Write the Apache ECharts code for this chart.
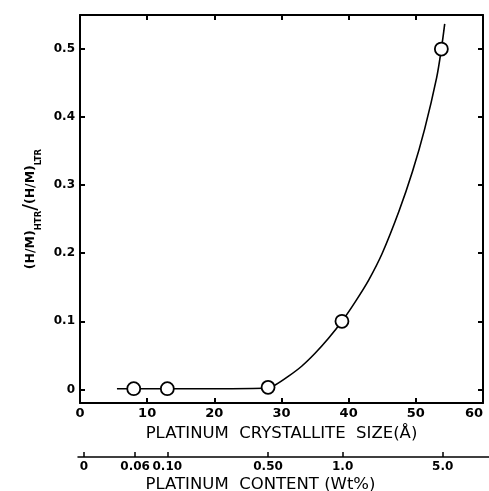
<!DOCTYPE html>
<html>
<head>
<meta charset="utf-8">
<script src="https://cdn.jsdelivr.net/npm/echarts@6/dist/echarts.min.js"></script>
<style>
html,body{margin:0;padding:0;background:#fff;}
#chart{width:489px;height:491px;}
</style>
</head>
<body>
<div id="chart"></div>
<script>
// Measured points: crystallite size (Å) vs ratio
var pointSize = [8, 13, 28, 39, 53.8];
var pointRatio = [0.001, 0.001, 0.003, 0.100, 0.500];

// Hand-drawn trend curve
var curveSize  = [5.5, 8, 13, 20, 28, 29, 31, 33, 35, 37, 39, 41, 43, 45, 47.5, 49.5, 51.3, 53.1, 53.8, 54.3];
var curveRatio = [0.001, 0.001, 0.001, 0.001, 0.002, 0.006, 0.019, 0.034, 0.053, 0.075, 0.100, 0.129, 0.161, 0.200, 0.262, 0.320, 0.382, 0.458, 0.500, 0.537];

// Y tick labels
var yTicks = [0, 0.1, 0.2, 0.3, 0.4, 0.5];
var yTickLabels = ['0', '0.1', '0.2', '0.3', '0.4', '0.5'];

// Secondary scale: platinum content at matching crystallite sizes
var contentPos = [0.6, 8.2, 13, 28, 39.1, 54];
var contentLabels = ['0', '0.06', '0.10', '0.50', '1.0', '5.0'];

var FONT = 'DejaVu Sans';
var chart = echarts.init(document.getElementById('chart'), null, {renderer: 'canvas'});

var lineStyle = {color: '#000', width: 2};
var option = {
  backgroundColor: '#fff',
  animation: false,
  grid: [
    {left: 80, right: 6, top: 15, bottom: 88, containLabel: false, outerBoundsMode: 'none'},
    {left: 78, right: 0, top: 450, height: 7, containLabel: false, outerBoundsMode: 'none'}
  ],
  xAxis: [
    {
      type: 'value', gridIndex: 0, position: 'bottom', min: 0, max: 60, interval: 10,
      axisLine: {show: true, onZero: false, lineStyle: lineStyle},
      axisTick: {show: true, inside: true, length: 5, lineStyle: lineStyle},
      splitLine: {show: false},
      axisLabel: {color: '#000', fontFamily: FONT, fontWeight: 'bold', fontSize: 13, margin: 4, alignMaxLabel: 'right'},
      name: 'PLATINUM  CRYSTALLITE  SIZE(Å)',
      nameLocation: 'middle', nameGap: 17,
      nameTextStyle: {color: '#000', fontFamily: FONT, fontSize: 16.5, verticalAlign: 'top'}
    },
    {
      type: 'value', gridIndex: 0, position: 'top', min: 0, max: 60, interval: 10,
      axisLine: {show: true, onZero: false, lineStyle: lineStyle},
      axisTick: {show: true, inside: true, length: 5, lineStyle: lineStyle},
      splitLine: {show: false},
      axisLabel: {show: false}
    },
    {
      type: 'value', gridIndex: 1, position: 'bottom', min: -0.3, max: 60.9,
      axisLine: {show: true, onZero: false, lineStyle: {color: '#000', width: 1.5}},
      axisTick: {show: true, inside: true, length: 5, customValues: contentPos, lineStyle: {color: '#000', width: 1.5}},
      splitLine: {show: false},
      axisLabel: {
        color: '#000', fontFamily: FONT, fontWeight: 'bold', fontSize: 12, margin: 4,
        customValues: contentPos,
        formatter: function (v) {
          var i = contentPos.indexOf(v);
          return i >= 0 ? contentLabels[i] : '';
        }
      },
      name: 'PLATINUM  CONTENT (Wt%)',
      nameLocation: 'middle', nameGap: 19,
      nameTextStyle: {color: '#000', fontFamily: FONT, fontSize: 16.5, verticalAlign: 'top', padding: [0, 46, 0, 0]}
    }
  ],
  yAxis: [
    {
      type: 'value', gridIndex: 0, position: 'left', min: -0.02, max: 0.55,
      axisLine: {show: true, onZero: false, lineStyle: lineStyle},
      axisTick: {show: true, inside: true, length: 5, customValues: yTicks, lineStyle: lineStyle},
      splitLine: {show: false},
      axisLabel: {
        color: '#000', fontFamily: FONT, fontWeight: 'bold', fontSize: 12, margin: 5,
        customValues: yTicks,
        formatter: function (v) {
          var i = yTicks.indexOf(v);
          return i >= 0 ? yTickLabels[i] : '';
        }
      },
      name: '{m|(H/M)}{s|HTR}{sl|/}{m|(H/M)}{s|LTR}',
      nameLocation: 'middle', nameGap: 32, nameRotate: 90,
      nameTextStyle: {
        color: '#000', fontFamily: FONT,
        rich: {
          m: {fontFamily: FONT, fontSize: 12.5, fontWeight: 'bold', color: '#000', lineHeight: 24, verticalAlign: 'middle'},
          s: {fontFamily: FONT, fontSize: 8.5, fontWeight: 'bold', color: '#000', lineHeight: 9, verticalAlign: 'bottom'},
          sl: {fontFamily: FONT, fontSize: 20, color: '#000', lineHeight: 24, verticalAlign: 'middle'}
        }
      }
    },
    {
      type: 'value', gridIndex: 0, position: 'right', min: -0.02, max: 0.55,
      axisLine: {show: true, onZero: false, lineStyle: lineStyle},
      axisTick: {show: true, inside: true, length: 5, customValues: yTicks, lineStyle: lineStyle},
      splitLine: {show: false},
      axisLabel: {show: false}
    },
    {
      type: 'value', gridIndex: 1, min: 0, max: 1, show: false
    }
  ],
  series: [
    {
      type: 'line', xAxisIndex: 0, yAxisIndex: 0,
      data: curveSize.map(function (x, i) { return [x, curveRatio[i]]; }),
      smooth: 0.3, showSymbol: false, symbol: 'none',
      lineStyle: {color: '#000', width: 1.6},
      z: 2
    },
    {
      type: 'scatter', xAxisIndex: 0, yAxisIndex: 0,
      data: pointSize.map(function (x, i) { return [x, pointRatio[i]]; }),
      symbol: 'circle', symbolSize: 13,
      itemStyle: {color: '#fff', borderColor: '#000', borderWidth: 1.8, opacity: 1},
      emphasis: {disabled: true},
      z: 3
    }
  ]
};
chart.setOption(option);
</script>
</body>
</html>
